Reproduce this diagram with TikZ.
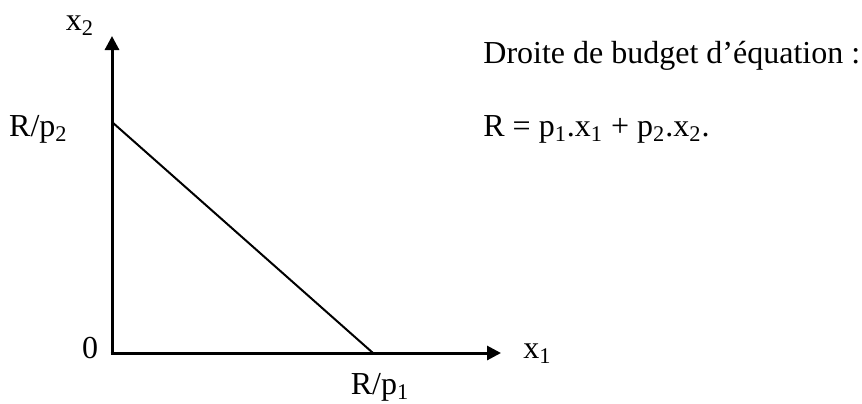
\documentclass[tikz,border=0pt]{standalone}
\usepackage{fontspec}
\setmainfont{Liberation Serif}
\usepackage{tikz}
\usetikzlibrary{arrows.meta}

\begin{document}
\begin{tikzpicture}[
    x=0.5pt, y=-0.5pt,
    lbl/.style={inner sep=0pt, font=\fontsize{16}{19}\selectfont},
    axis/.style={line width=1.5pt, -{Triangle[length=7pt, width=7pt]}},
    budget/.style={line width=1pt}]
  \useasboundingbox (0,0) rectangle (862,403);
  % axes
  \coordinate (O) at (112,353);
  \coordinate (ytip) at (112,36);
  \coordinate (xtip) at (501,353);
  \draw[axis] ([yshift=-0.75pt]O) -- (ytip);
  \draw[axis] ([xshift=-0.75pt]O) -- (xtip);
  % budget line
  \coordinate (b2) at (112,122);
  \coordinate (b1) at (373,353);
  \draw[budget] (b2) -- (b1);
  % labels
  \node[lbl, anchor=base] (lx2) at (80,30) {x\textsubscript{2}};
  \node[lbl, anchor=base east] (lrp2) at (68,136) {R/p\textsubscript{2}};
  \node[lbl, anchor=base] (lzero) at (90,358) {0};
  \node[lbl, anchor=base west] (lx1) at (523,358) {x\textsubscript{1}};
  \node[lbl, anchor=base] (lrp1) at (380,394) {R/p\textsubscript{1}};
  \node[lbl, anchor=base west] (title) at (483,63) {Droite de budget d’équation :};
  \node[lbl, anchor=base west] (eq) at (483,136) {R = p\textsubscript{1}.x\textsubscript{1} + p\textsubscript{2}.x\textsubscript{2}.};
\end{tikzpicture}
\end{document}
